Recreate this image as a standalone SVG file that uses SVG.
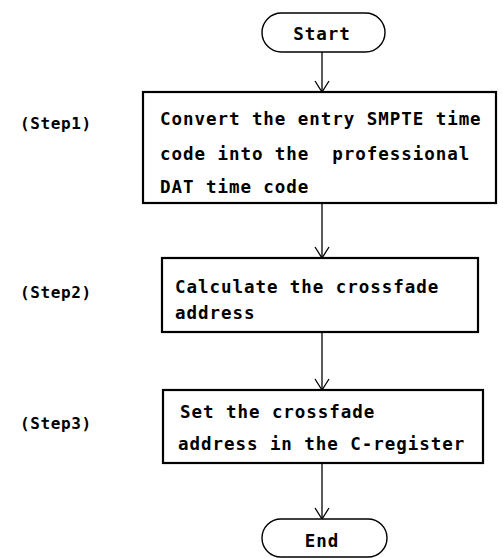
<svg xmlns="http://www.w3.org/2000/svg" width="503" height="558" viewBox="0 0 503 558">
  <style>
    .box { fill: #fff; stroke: #000; stroke-width: 2.2; }
    .term { fill: #fff; stroke: #000; stroke-width: 1.4; }
    .t { font-family: "DejaVu Sans Mono", "Liberation Mono", monospace; font-weight: bold; font-size: 17.5px; letter-spacing: 0.95px; fill: #000; white-space: pre; }
    .step { font-family: "DejaVu Sans Mono", "Liberation Mono", monospace; font-weight: bold; font-size: 16px; letter-spacing: 0.6px; fill: #000; }
    .edge { fill: none; stroke: #000; stroke-width: 1.3; }
  </style>
  <defs>
    <!-- open V arrowhead, drawn along +x so orient="auto" points it down the line -->
    <marker id="arrow" markerWidth="14" markerHeight="16" refX="12" refY="7.5" orient="auto" markerUnits="userSpaceOnUse" viewBox="0 0 14 15">
      <path d="M1,0.5 L12,7.5 L1,14.5" fill="none" stroke="#000" stroke-width="1.3"/>
    </marker>
  </defs>
  <rect width="503" height="558" fill="#fff"/>

  <g id="connectors">
    <line class="edge" x1="322" y1="52" x2="322" y2="92" marker-end="url(#arrow)"/>
    <line class="edge" x1="322" y1="203" x2="322" y2="258" marker-end="url(#arrow)"/>
    <line class="edge" x1="322" y1="332" x2="322" y2="390" marker-end="url(#arrow)"/>
    <line class="edge" x1="322" y1="463" x2="322" y2="519" marker-end="url(#arrow)"/>
  </g>

  <g id="start">
    <rect class="term" x="262" y="13" width="123" height="39" rx="19.5" ry="19.5"/>
    <text class="t" x="322" y="40" text-anchor="middle">Start</text>
  </g>

  <g id="step1">
    <text class="step" x="20" y="129">(Step1)</text>
    <rect class="box" x="143" y="92" width="353" height="111"/>
    <text class="t" x="160" y="125">Convert the entry SMPTE time</text>
    <text class="t" x="160" y="160" xml:space="preserve">code into the  professional</text>
    <text class="t" x="160" y="193">DAT time code</text>
  </g>

  <g id="step2">
    <text class="step" x="20" y="298">(Step2)</text>
    <rect class="box" x="162" y="258" width="316" height="74"/>
    <text class="t" x="175" y="293">Calculate the crossfade</text>
    <text class="t" x="175" y="319">address</text>
  </g>

  <g id="step3">
    <text class="step" x="20" y="429">(Step3)</text>
    <rect class="box" x="163" y="390" width="320" height="73"/>
    <text class="t" x="180" y="418">Set the crossfade</text>
    <text class="t" x="178" y="450">address in the C-register</text>
  </g>

  <g id="end">
    <rect class="term" x="262" y="519" width="125" height="38" rx="19" ry="19"/>
    <text class="t" x="322" y="547" text-anchor="middle">End</text>
  </g>
</svg>
